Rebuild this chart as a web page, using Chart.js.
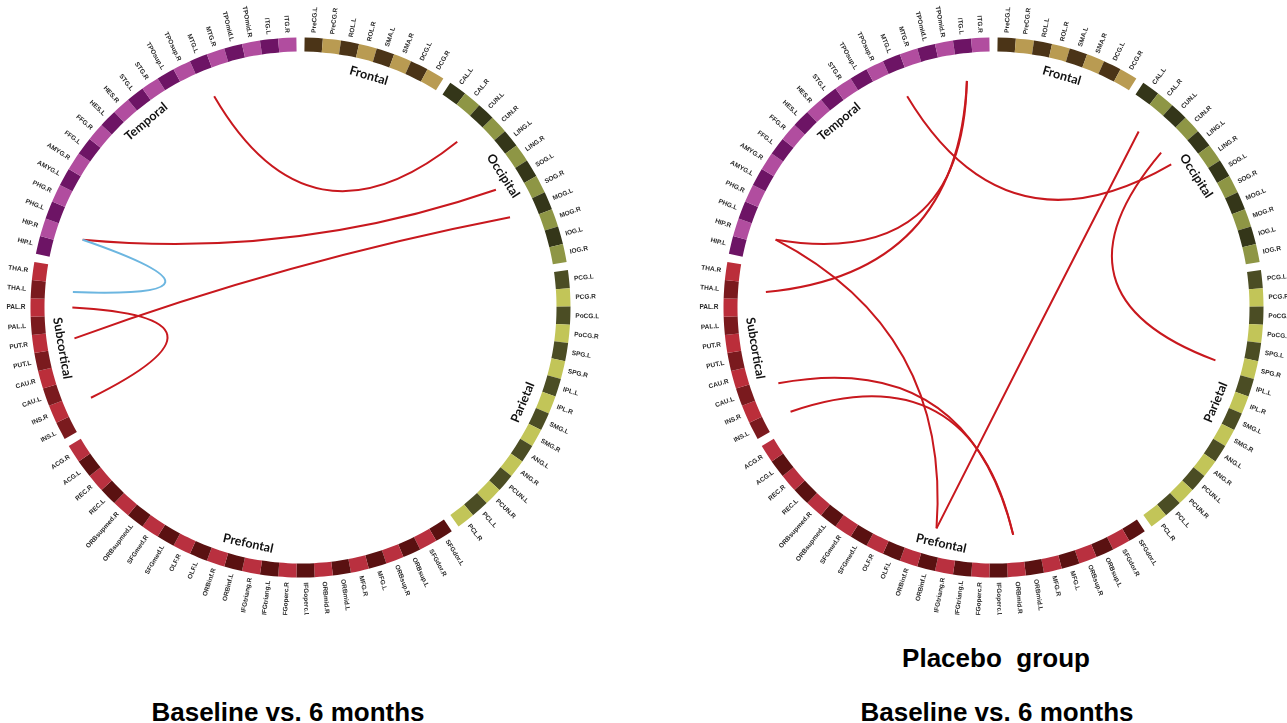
<!DOCTYPE html>
<html>
<head>
<meta charset="utf-8">
<script src="https://cdn.jsdelivr.net/npm/chart.js@4.4.0/dist/chart.umd.min.js"></script>
<style>
html, body { margin:0; padding:0; background:#fff; width:1287px; height:723px; overflow:hidden; position:relative; }
canvas { position:absolute; top:0; }
#left { left:0; }
#right { left:693px; }
.title { position:absolute; font-family:"Liberation Sans", Arial, sans-serif; font-weight:bold; font-size:26px; color:#000; white-space:pre; transform:translateX(-50%); line-height:1; }
</style>
</head>
<body>
<canvas id="left" width="601" height="615"></canvas>
<canvas id="right" width="601" height="615"></canvas>
<div class="title" style="left:288px;top:699px">Baseline vs. 6 months</div>
<div class="title" style="left:996px;top:645px">Placebo  group</div>
<div class="title" style="left:997px;top:699px">Baseline vs. 6 months</div>
<script>
// AAL regions, clockwise from the top
const groups = ["Frontal", "Occipital", "Parietal", "Prefontal", "Subcortical", "Temporal"];
const frontal = ["PreCG.L","PreCG.R","ROL.L","ROL.R","SMA.L","SMA.R","DCG.L","DCG.R"];
const occipital = ["CAL.L","CAL.R","CUN.L","CUN.R","LING.L","LING.R","SOG.L","SOG.R","MOG.L","MOG.R","IOG.L","IOG.R"];
const parietal = ["PCG.L","PCG.R","PoCG.L","PoCG.R","SPG.L","SPG.R","IPL.L","IPL.R","SMG.L","SMG.R","ANG.L","ANG.R","PCUN.L","PCUN.R","PCL.L","PCL.R"];
const prefrontal = ["SFGdor.L","SFGdor.R","ORBsup.L","ORBsup.R","MFG.L","MFG.R","ORBmid.L","ORBmid.R","IFGoperc.L","IFGoperc.R","IFGtriang.L","IFGtriang.R","ORBinf.L","ORBinf.R","OLF.L","OLF.R","SFGmed.L","SFGmed.R","ORBsupmed.L","ORBsupmed.R","REC.L","REC.R","ACG.L","ACG.R"];
const subcortical = ["INS.L","INS.R","CAU.L","CAU.R","PUT.L","PUT.R","PAL.L","PAL.R","THA.L","THA.R"];
const temporal = ["HIP.L","HIP.R","PHG.L","PHG.R","AMYG.L","AMYG.R","FFG.L","FFG.R","HES.L","HES.R","STG.L","STG.R","TPOsup.L","TPOsup.R","MTG.L","MTG.R","TPOmid.L","TPOmid.R","ITG.L","ITG.R"];

// connections (left: treated group, right: placebo group)
const leftIncreased = [["MTG.L","CUN.L"],["HIP.R","SOG.L"],["PUT.R","MOG.L"],["PAL.R","INS.R"]];
const leftDecreased = [["HIP.R","THA.L"]];
const rightIncreased = [["HIP.R","ITG.L"],["THA.L","ITG.L"],["HIP.R","ORBinf.L"],["MTG.L","LING.L"],["CAL.R","ORBinf.L"],["CUN.R","SPG.R"],["CAU.L","ORBmid.R"],["INS.L","ORBmid.R"]];
const rightDecreased = [];

const regionLists = [frontal, occipital, parietal, prefrontal, subcortical, temporal];
const darkColors = ["#4b3417","#343619","#4b4d24","#5a1111","#7a1a1e","#6d1465"];
const lightColors = ["#b99b52","#8e9645","#c2c558","#b9303f","#bb2e3a","#b14d9f"];
const GAP = 0.45;

function buildData() {
  const labels = [], values = [], colors = [], spans = [];
  regionLists.forEach((list, g) => {
    const start = labels.length;
    list.forEach((name, i) => {
      labels.push(name);
      values.push(1);
      colors.push(i % 2 ? lightColors[g] : darkColors[g]);
    });
    spans.push([start, labels.length - 1]);
    labels.push('');
    values.push(GAP);
    colors.push('rgba(0,0,0,0)');
  });
  return {labels, values, colors, spans};
}

const circos = {
  id: 'circos',
  afterDatasetsDraw(chart, args, opts) {
    const ctx = chart.ctx;
    const arcs = chart.getDatasetMeta(0).data;
    const names = chart.data.labels;
    const cx = arcs[0].x, cy = arcs[0].y, R = arcs[0].outerRadius;
    const pos = {};
    arcs.forEach((arc, i) => { if (names[i]) pos[names[i]] = (arc.startAngle + arc.endAngle) / 2; });

    // region labels, radial
    ctx.save();
    ctx.fillStyle = '#2a2a2a';
    ctx.font = 'bold 6.5px "Liberation Sans", Arial, sans-serif';
    ctx.textBaseline = 'middle';
    Object.keys(pos).forEach(name => {
      const a = pos[name];
      ctx.save();
      ctx.translate(cx, cy);
      if (Math.cos(a) >= 0) {
        ctx.rotate(a); ctx.textAlign = 'left'; ctx.fillText(name, R + 5, 0);
      } else {
        ctx.rotate(a + Math.PI); ctx.textAlign = 'right'; ctx.fillText(name, -R - 5, 0);
      }
      ctx.restore();
    });

    // group names inside the ring
    ctx.font = 'bold 12.5px Lato, "Liberation Sans", sans-serif';
    ctx.fillStyle = '#111';
    ctx.textAlign = 'center';
    opts.spans.forEach((s, g) => {
      const a = (arcs[s[0]].startAngle + arcs[s[1]].endAngle) / 2;
      const r = R * 0.895;
      ctx.save();
      ctx.translate(cx + r * Math.cos(a), cy + r * Math.sin(a));
      ctx.rotate(Math.sin(a) > 0 ? a - Math.PI / 2 : a + Math.PI / 2);
      ctx.fillText(groups[g], 0, 0);
      ctx.restore();
    });

    // links
    const rEnd = R * 0.845, rCtl = R * 0.18;
    const drawLinks = (list, color) => {
      ctx.strokeStyle = color;
      ctx.lineWidth = 2;
      list.forEach(([p, q]) => {
        const a1 = pos[p], a2 = pos[q];
        const am = Math.atan2(Math.sin(a1) + Math.sin(a2), Math.cos(a1) + Math.cos(a2));
        ctx.beginPath();
        ctx.moveTo(cx + rEnd * Math.cos(a1), cy + rEnd * Math.sin(a1));
        ctx.quadraticCurveTo(cx + rCtl * Math.cos(am), cy + rCtl * Math.sin(am),
                             cx + rEnd * Math.cos(a2), cy + rEnd * Math.sin(a2));
        ctx.stroke();
      });
    };
    drawLinks(opts.increased, '#c8181e');
    drawLinks(opts.decreased, '#6cb6e0');
    ctx.restore();
  }
};

function makeChart(id, increased, decreased) {
  const d = buildData();
  const unit = 360 / d.values.reduce((a, b) => a + b, 0);
  return new Chart(document.getElementById(id), {
    type: 'doughnut',
    data: {
      labels: d.labels,
      datasets: [{ data: d.values, backgroundColor: d.colors, borderWidth: 0, hoverOffset: 0 }]
    },
    options: {
      responsive: false,
      animation: false,
      radius: 270,
      cutout: (256 / 270 * 100) + '%',
      rotation: unit * GAP / 2,
      events: [],
      plugins: {
        legend: { display: false },
        tooltip: { enabled: false },
        circos: { spans: d.spans, increased, decreased }
      }
    },
    plugins: [circos]
  });
}

makeChart('left', leftIncreased, leftDecreased);
makeChart('right', rightIncreased, rightDecreased);
</script>
</body>
</html>
